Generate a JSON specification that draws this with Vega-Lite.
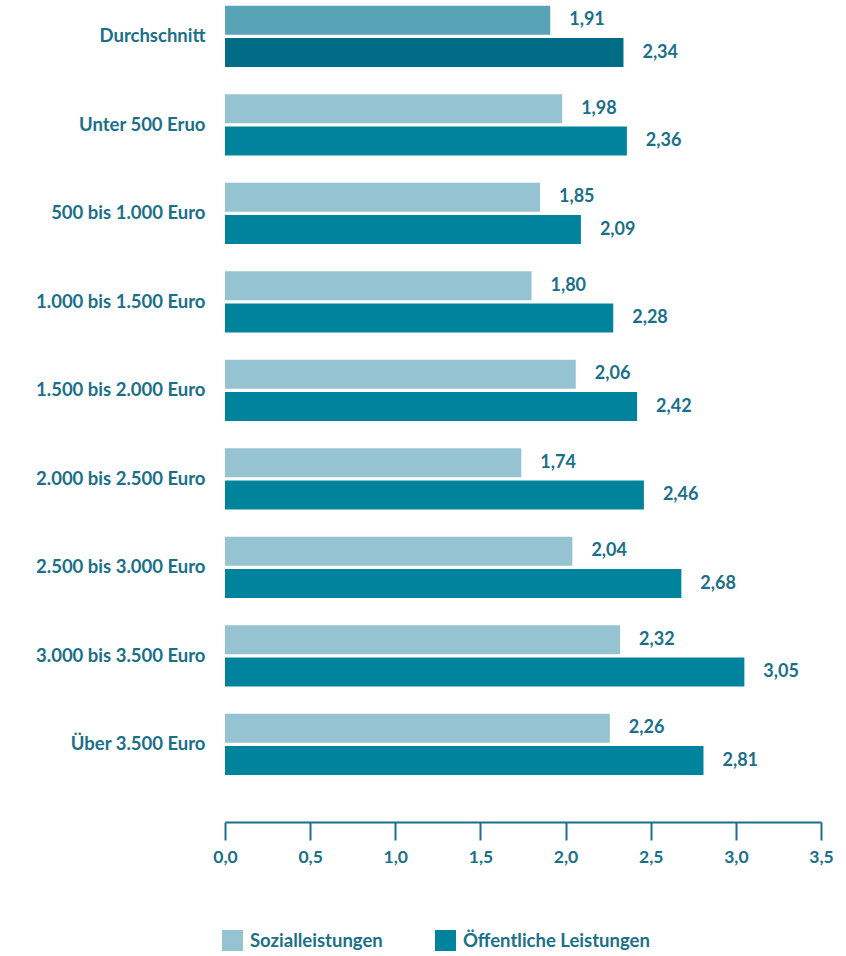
{
  "$schema": "https://vega.github.io/schema/vega-lite/v6.json",
  "width": 596,
  "height": 822,
  "autosize": "none",
  "padding": {"left": 225, "top": 0, "right": 25, "bottom": 134},
  "background": "white",
  "config": {
    "locale": {"number": {"decimal": ",", "thousands": ".", "grouping": [3], "currency": ["", " €"]}},
    "view": {"stroke": null},
    "font": "Lato",
    "text": {"font": "Lato"}
  },
  "data": {
    "values": [
      {"Gruppe": "Durchschnitt", "Serie": "Sozialleistungen", "Wert": 1.91},
      {"Gruppe": "Durchschnitt", "Serie": "Öffentliche Leistungen", "Wert": 2.34},
      {"Gruppe": "Unter 500 Eruo", "Serie": "Sozialleistungen", "Wert": 1.98},
      {"Gruppe": "Unter 500 Eruo", "Serie": "Öffentliche Leistungen", "Wert": 2.36},
      {"Gruppe": "500 bis 1.000 Euro", "Serie": "Sozialleistungen", "Wert": 1.85},
      {"Gruppe": "500 bis 1.000 Euro", "Serie": "Öffentliche Leistungen", "Wert": 2.09},
      {"Gruppe": "1.000  bis 1.500 Euro", "Serie": "Sozialleistungen", "Wert": 1.80},
      {"Gruppe": "1.000  bis 1.500 Euro", "Serie": "Öffentliche Leistungen", "Wert": 2.28},
      {"Gruppe": "1.500 bis 2.000 Euro", "Serie": "Sozialleistungen", "Wert": 2.06},
      {"Gruppe": "1.500 bis 2.000 Euro", "Serie": "Öffentliche Leistungen", "Wert": 2.42},
      {"Gruppe": "2.000 bis 2.500 Euro", "Serie": "Sozialleistungen", "Wert": 1.74},
      {"Gruppe": "2.000 bis 2.500 Euro", "Serie": "Öffentliche Leistungen", "Wert": 2.46},
      {"Gruppe": "2.500 bis 3.000 Euro", "Serie": "Sozialleistungen", "Wert": 2.04},
      {"Gruppe": "2.500 bis 3.000 Euro", "Serie": "Öffentliche Leistungen", "Wert": 2.68},
      {"Gruppe": "3.000 bis 3.500 Euro", "Serie": "Sozialleistungen", "Wert": 2.32},
      {"Gruppe": "3.000 bis 3.500 Euro", "Serie": "Öffentliche Leistungen", "Wert": 3.05},
      {"Gruppe": "Über 3.500 Euro", "Serie": "Sozialleistungen", "Wert": 2.26},
      {"Gruppe": "Über 3.500 Euro", "Serie": "Öffentliche Leistungen", "Wert": 2.81}
    ]
  },
  "encoding": {
    "y": {
      "field": "Gruppe",
      "type": "nominal",
      "sort": null,
      "scale": {"paddingInner": 0.308, "paddingOuter": 0.298, "align": 0.11},
      "axis": {
        "title": null,
        "domain": false,
        "ticks": false,
        "labelPadding": 20,
        "labelFont": "Lato",
        "labelFontWeight": "bold",
        "labelFontSize": 18.5,
        "labelColor": "#1a6f89",
        "labelLimit": 300
      }
    },
    "yOffset": {
      "field": "Serie",
      "type": "nominal",
      "sort": ["Sozialleistungen", "Öffentliche Leistungen"],
      "scale": {"paddingInner": 0.1}
    },
    "x": {
      "field": "Wert",
      "type": "quantitative",
      "scale": {"domain": [0, 3.5], "nice": false},
      "axis": {
        "title": null,
        "values": [0, 0.5, 1, 1.5, 2, 2.5, 3, 3.5],
        "format": ".1f",
        "grid": false,
        "domainColor": "#1a6f89",
        "domainWidth": 2,
        "tickColor": "#1a6f89",
        "tickWidth": 2,
        "tickSize": 18,
        "labelPadding": 8,
        "labelFont": "Lato",
        "labelFontWeight": "bold",
        "labelFontSize": 17.5,
        "labelColor": "#1a6f89",
        "labelFlush": false
      }
    }
  },
  "layer": [
    {
      "mark": {"type": "bar"},
      "encoding": {
        "color": {
          "condition": [
            {"test": "datum.Gruppe === 'Durchschnitt' && datum.Serie === 'Sozialleistungen'", "value": "#59a3b6"},
            {"test": "datum.Gruppe === 'Durchschnitt' && datum.Serie === 'Öffentliche Leistungen'", "value": "#006c85"}
          ],
          "field": "Serie",
          "type": "nominal",
          "sort": ["Sozialleistungen", "Öffentliche Leistungen"],
          "scale": {"domain": ["Sozialleistungen", "Öffentliche Leistungen"], "range": ["#96c3d2", "#00839c"]},
          "legend": {
            "title": null,
            "orient": "none",
            "direction": "horizontal",
            "legendX": -3,
            "legendY": 930,
            "symbolType": "square",
            "symbolSize": 440,
            "symbolStrokeWidth": 0,
            "symbolOpacity": 1,
            "labelFont": "Lato",
            "labelFontWeight": "bold",
            "labelFontSize": 18.5,
            "labelColor": "#1a6f89",
            "labelOffset": 7,
            "columnPadding": 52,
            "labelLimit": 300
          }
        }
      }
    },
    {
      "mark": {"type": "text", "align": "left", "baseline": "middle", "dx": 19, "fontWeight": "bold", "fontSize": 18, "font": "Lato", "color": "#1a6f89"},
      "encoding": {
        "text": {"field": "Wert", "type": "quantitative", "format": ".2f"}
      }
    }
  ]
}
